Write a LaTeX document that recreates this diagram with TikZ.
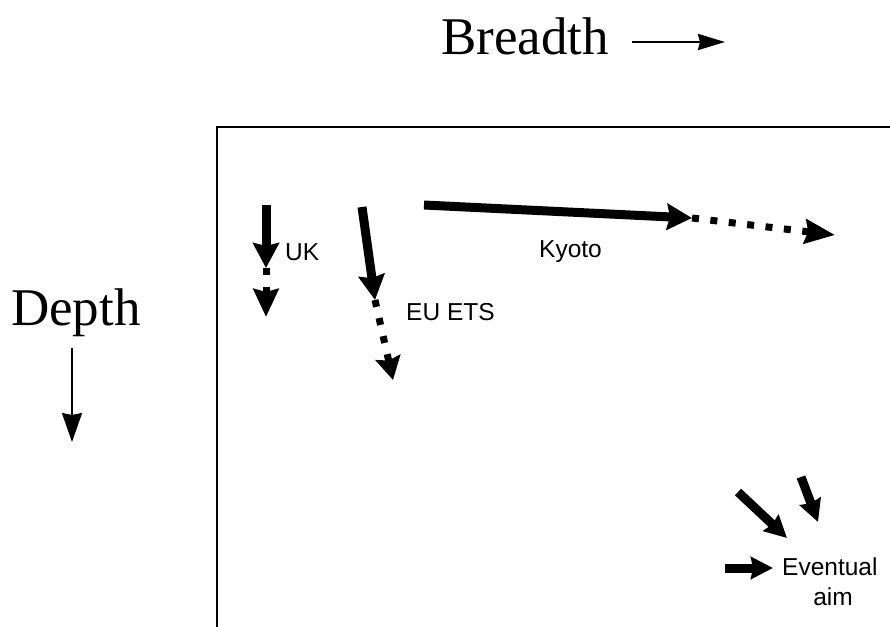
\documentclass[tikz,border=0pt]{standalone}
\usepackage{fontspec}
\setmainfont{Liberation Serif}
\newfontfamily\labfont{Liberation Sans}
\usetikzlibrary{arrows.meta}
\tikzset{
  bigtip/.style={-{Stealth[length=25pt,width=26pt,inset=3pt]}},
  midtip/.style={-{Stealth[length=22pt,width=22pt,inset=2pt]}},
  solidarrow/.style={line width=9pt},
  dotarrow/.style={line width=7pt, dash pattern=on 7pt off 11.5pt},
  hthin/.style={line width=2.5pt,-{Stealth[length=27pt,width=16pt,inset=2pt]}},
  vthin/.style={line width=2.2pt,-{Stealth[length=29pt,width=20pt,inset=2pt]}},
  bigtext/.style={font=\fontsize{53}{58}\selectfont, inner sep=0pt, anchor=base west},
  labtext/.style={font=\labfont\fontsize{24.5}{28}\selectfont, inner sep=0pt, anchor=base west},
  frame/.style={line width=2pt}
}
\begin{document}
\begin{tikzpicture}[x=1pt,y=-1pt]
\useasboundingbox (0,0) rectangle (890,626);
% frame
\coordinate (fb) at (217,640);
\coordinate (fc) at (217,127);
\coordinate (fr) at (900,127);
\draw[frame] (fb) -- (fc) -- (fr);
% axis labels
\node[bigtext] (breadth) at (441,55) {Breadth};
\coordinate (b1) at (632,42);
\coordinate (b2) at (725,42);
\draw[hthin] (b1) -- (b2);
\node[bigtext] (depth) at (11,325) {Depth};
\coordinate (d1) at (72,348);
\coordinate (d2) at (72,442);
\draw[vthin] (d1) -- (d2);
% UK
\coordinate (uk0) at (266,205);
\coordinate (uk1) at (266,268);
\coordinate (uk2) at (266,317);
\draw[solidarrow,bigtip] (uk0) -- (uk1);
\draw[dotarrow,-{Stealth[length=28pt,width=25pt,inset=3pt]}] (uk1) -- (uk2);
\node[labtext] (uk) at (285,260) {UK};
% EU ETS
\coordinate (eu0) at (362,207);
\coordinate (eu1) at (375,300);
\coordinate (eu2) at (393,380);
\draw[solidarrow,bigtip] (eu0) -- (eu1);
\draw[dotarrow,-{Stealth[length=23pt,width=25pt,inset=3pt]}] (eu1) -- (eu2);
\node[labtext] (euets) at (406,320) {EU ETS};
% Kyoto
\coordinate (ky0) at (424,205);
\coordinate (ky1) at (692,218);
\coordinate (ky2) at (835,235);
\draw[solidarrow,bigtip] (ky0) -- (ky1);
\draw[dotarrow,-{Stealth[length=30pt,width=24pt,inset=3pt]}] (ky1) -- (ky2);
\node[labtext] (kyoto) at (539,257) {Kyoto};
% Eventual aim
\node[labtext] (ev) at (782,575) {Eventual};
\node[labtext, anchor=base] (aim) at (833,605) {aim};
\coordinate (e1a) at (738,492);
\coordinate (e1b) at (787,538);
\coordinate (e2a) at (801,477);
\coordinate (e2b) at (818,522);
\coordinate (e3a) at (725,568);
\coordinate (e3b) at (773,568);
\draw[solidarrow,midtip] (e1a) -- (e1b);
\draw[solidarrow,midtip] (e2a) -- (e2b);
\draw[solidarrow,midtip] (e3a) -- (e3b);
\end{tikzpicture}
\end{document}
